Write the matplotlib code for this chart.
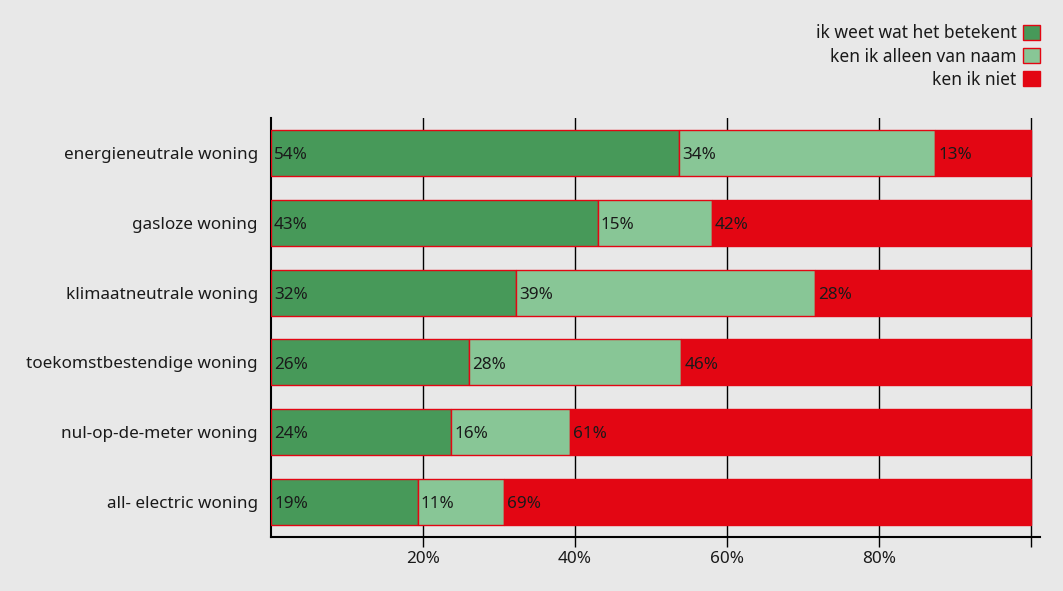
import matplotlib
matplotlib.use("Agg")
import matplotlib.pyplot as plt
from matplotlib.patches import Patch
import numpy as np

categories = ["energieneutrale woning", "gasloze woning", "klimaatneutrale woning",
              "toekomstbestendige woning", "nul-op-de-meter woning", "all- electric woning"]
series_names = ["ik weet wat het betekent", "ken ik alleen van naam", "ken ik niet"]
weet = [53.7, 43.0, 32.3, 26.0, 23.7, 19.3]
naam = [33.7, 15.0, 39.3, 28.0, 15.7, 11.3]
niet = [12.6, 42.0, 28.4, 46.0, 60.6, 69.4]
xticks = [20, 40, 60, 80, 100]
xticklabels = ["20%", "40%", "60%", "80%", ""]

colors = ["#479959", "#88c696", "#e30613"]
bg = "#e8e8e8"
font = "Noto Sans"
plt.rcParams['font.family'] = [font, 'DejaVu Sans']

fig = plt.figure(figsize=(10.63, 5.91), dpi=100, facecolor=bg)
ax = fig.add_axes([0.255, 0.0914, 0.7234, 0.7089], facecolor=bg)

y = np.arange(len(categories))
left = np.zeros(len(categories))
for vals, col in zip([weet, naam, niet], colors):
    ax.barh(y, vals, left=left, height=0.66, color=col, edgecolor="#e30613",
            linewidth=1, zorder=3)
    for yi, l, v in zip(y, left, vals):
        ax.text(l + 0.4, yi + 0.03, f"{round(v):d}%", va="center", ha="left",
                fontsize=12.3, color="#1a1a1a", zorder=4)
    left = left + np.array(vals)

ax.set_xlim(0, 101.2)
ax.set_ylim(len(categories) - 0.5, -0.5)
ax.set_yticks(y)
ax.set_yticklabels(categories, fontsize=12.3, color="#1a1a1a")
ax.tick_params(axis="y", length=0, pad=9.5)
ax.set_xticks(xticks)
ax.set_xticklabels(xticklabels, fontsize=12.3, color="#1a1a1a")
ax.tick_params(axis="x", direction="out", length=7, width=1, color="black", pad=3)
ax.grid(axis="x", color="black", linewidth=1, zorder=0)
ax.set_axisbelow(True)
for s in ["top", "right"]:
    ax.spines[s].set_visible(False)
for s in ["left", "bottom"]:
    ax.spines[s].set_color("black")
    ax.spines[s].set_linewidth(1.5)

handles = [Patch(facecolor=c, edgecolor="#e30613", linewidth=1) for c in colors]
fig.legend(handles, series_names, loc="upper right", bbox_to_anchor=(0.993, 0.985),
           frameon=False, markerfirst=False, fontsize=12.5, handlelength=0.95,
           handleheight=0.95, handletextpad=0.4, labelspacing=0.3,
           labelcolor="#1a1a1a")

fig.savefig("out.png", dpi=100, facecolor=bg)
